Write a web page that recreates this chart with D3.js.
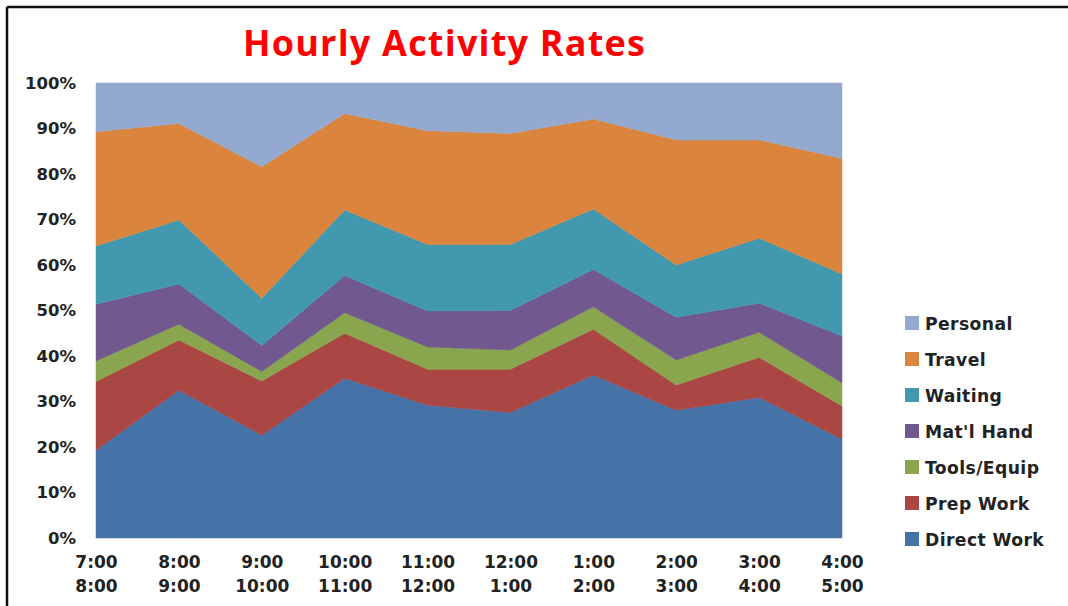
<!DOCTYPE html>
<meta charset="utf-8">
<html lang="en">
<head>
	<title>Hourly Activity Rates</title>
	<script src="https://d3js.org/d3.v7.min.js" charset="utf-8"></script>
	<style>
		body { margin: 0; background: #fff; }
	</style>
</head>
<body>
	<script>
// chart data (percent of each hour)
var hoursFrom = ["7:00", "8:00", "9:00", "10:00", "11:00", "12:00", "1:00", "2:00", "3:00", "4:00"];
var hoursTo   = ["8:00", "9:00", "10:00", "11:00", "12:00", "1:00", "2:00", "3:00", "4:00", "5:00"];
var seriesNames = ["Direct Work", "Prep Work", "Tools/Equip", "Mat'l Hand", "Waiting", "Travel", "Personal"];
var directWork = [19.3, 32.5, 22.6, 35.1, 29.2, 27.6, 35.8, 28.1, 30.9, 21.7];
var prepWork   = [15.1, 11.0, 11.9,  9.9,  7.9,  9.5, 10.1,  5.5,  8.8,  7.3];
var toolsEquip = [ 4.5,  3.5,  2.1,  4.5,  4.9,  4.2,  4.9,  5.5,  5.5,  5.1];
var matlHand   = [12.5,  8.8,  5.7,  8.2,  7.9,  8.7,  8.2,  9.4,  6.4, 10.3];
var waiting    = [12.8, 14.1, 10.4, 14.4, 14.6, 14.5, 13.3, 11.5, 14.3, 13.6];
var travel     = [25.1, 21.2, 28.9, 21.2, 25.0, 24.4, 19.8, 27.5, 21.6, 25.4];
var personal   = [10.7,  8.9, 18.4,  6.7, 10.5, 11.1,  7.9, 12.5, 12.5, 16.6];
var colors = ["#4572a7", "#aa4643", "#89a54e", "#71588f", "#4198af", "#db843d", "#93a9cf"];

var width = 1068,
    height = 606;

var margin = {left: 96, right: 226, top: 83, bottom: 68};
var labelFont = "DejaVu Sans, Verdana, sans-serif";

var svg = d3.select("body").append("svg")
    .attr("width", width)
    .attr("height", height);

// frame lines (top and left only, as in the picture)
svg.append("line").attr("x1", 7).attr("y1", 7).attr("x2", width).attr("y2", 7)
    .attr("stroke", "#111").attr("stroke-width", 2.5);
svg.append("line").attr("x1", 7).attr("y1", 7).attr("x2", 7).attr("y2", height)
    .attr("stroke", "#111").attr("stroke-width", 2.5);

var rows = hoursFrom.map(function(h, i) {
  return {
    i: i,
    "Direct Work": directWork[i],
    "Prep Work": prepWork[i],
    "Tools/Equip": toolsEquip[i],
    "Mat'l Hand": matlHand[i],
    "Waiting": waiting[i],
    "Travel": travel[i],
    "Personal": personal[i]
  };
});

var stack = d3.stack()
    .keys(seriesNames)
    .offset(d3.stackOffsetExpand);
var layers = stack(rows);

var x = d3.scaleLinear()
    .domain([0, hoursFrom.length - 1])
    .range([margin.left, width - margin.right]);

var y = d3.scaleLinear()
    .domain([0, 1])
    .range([height - margin.bottom, margin.top]);

var area = d3.area()
    .x(function(d) { return x(d.data.i); })
    .y0(function(d) { return y(d[0]); })
    .y1(function(d) { return y(d[1]); });

svg.append("g")
    .selectAll("path")
    .data(layers)
  .enter().append("path")
    .attr("d", area)
    .attr("fill", function(d, i) { return colors[i]; })
    .attr("stroke", function(d, i) { return colors[i]; })
    .attr("stroke-width", 0.5);

// y axis labels
var yAxis = d3.axisLeft(y)
    .tickValues(d3.range(0, 1.01, 0.1))
    .tickFormat(d3.format(".0%"))
    .tickSize(0)
    .tickPadding(20);

svg.append("g")
    .attr("transform", "translate(" + margin.left + ",0)")
    .call(yAxis)
    .call(function(g) { g.select(".domain").remove(); })
    .selectAll("text")
    .attr("font-family", labelFont)
    .attr("font-size", 16.5)
    .attr("font-weight", "bold")
    .attr("fill", "#222");

// x axis labels, two lines each
var xAxis = d3.axisBottom(x)
    .tickValues(d3.range(hoursFrom.length))
    .tickFormat(function(d) { return hoursFrom[d]; })
    .tickSize(0)
    .tickPadding(18);

var xg = svg.append("g")
    .attr("transform", "translate(0," + (height - margin.bottom) + ")")
    .call(xAxis)
    .call(function(g) { g.select(".domain").remove(); });

xg.selectAll("text")
    .attr("font-family", labelFont)
    .attr("font-size", 17)
    .attr("font-weight", "bold")
    .attr("fill", "#222")
    .append("tspan")
    .attr("x", 0)
    .attr("dy", "1.4em")
    .text(function(d) { return hoursTo[d]; });

// title
svg.append("text")
    .attr("x", 444)
    .attr("y", 56)
    .attr("text-anchor", "middle")
    .attr("font-family", "Open Sans, sans-serif")
    .attr("font-size", 36)
    .attr("font-weight", 700)
    .attr("fill", "#ff0000")
    .attr("textLength", 402)
    .attr("lengthAdjust", "spacing")
    .text("Hourly Activity Rates");

// legend, top item is the top layer
var legend = svg.append("g")
    .selectAll("g")
    .data(seriesNames.slice().reverse())
  .enter().append("g")
    .attr("transform", function(d, i) { return "translate(905," + (323 + i * 36) + ")"; });

legend.append("rect")
    .attr("x", 0)
    .attr("y", -7)
    .attr("width", 14)
    .attr("height", 14)
    .attr("fill", function(d) { return colors[seriesNames.indexOf(d)]; });

legend.append("text")
    .attr("x", 20)
    .attr("y", 6.5)
    .attr("font-family", labelFont)
    .attr("font-size", 17.2)
    .attr("font-weight", "bold")
    .attr("letter-spacing", 0.4)
    .attr("fill", "#222")
    .text(function(d) { return d; });
	</script>
</body>
</html>
